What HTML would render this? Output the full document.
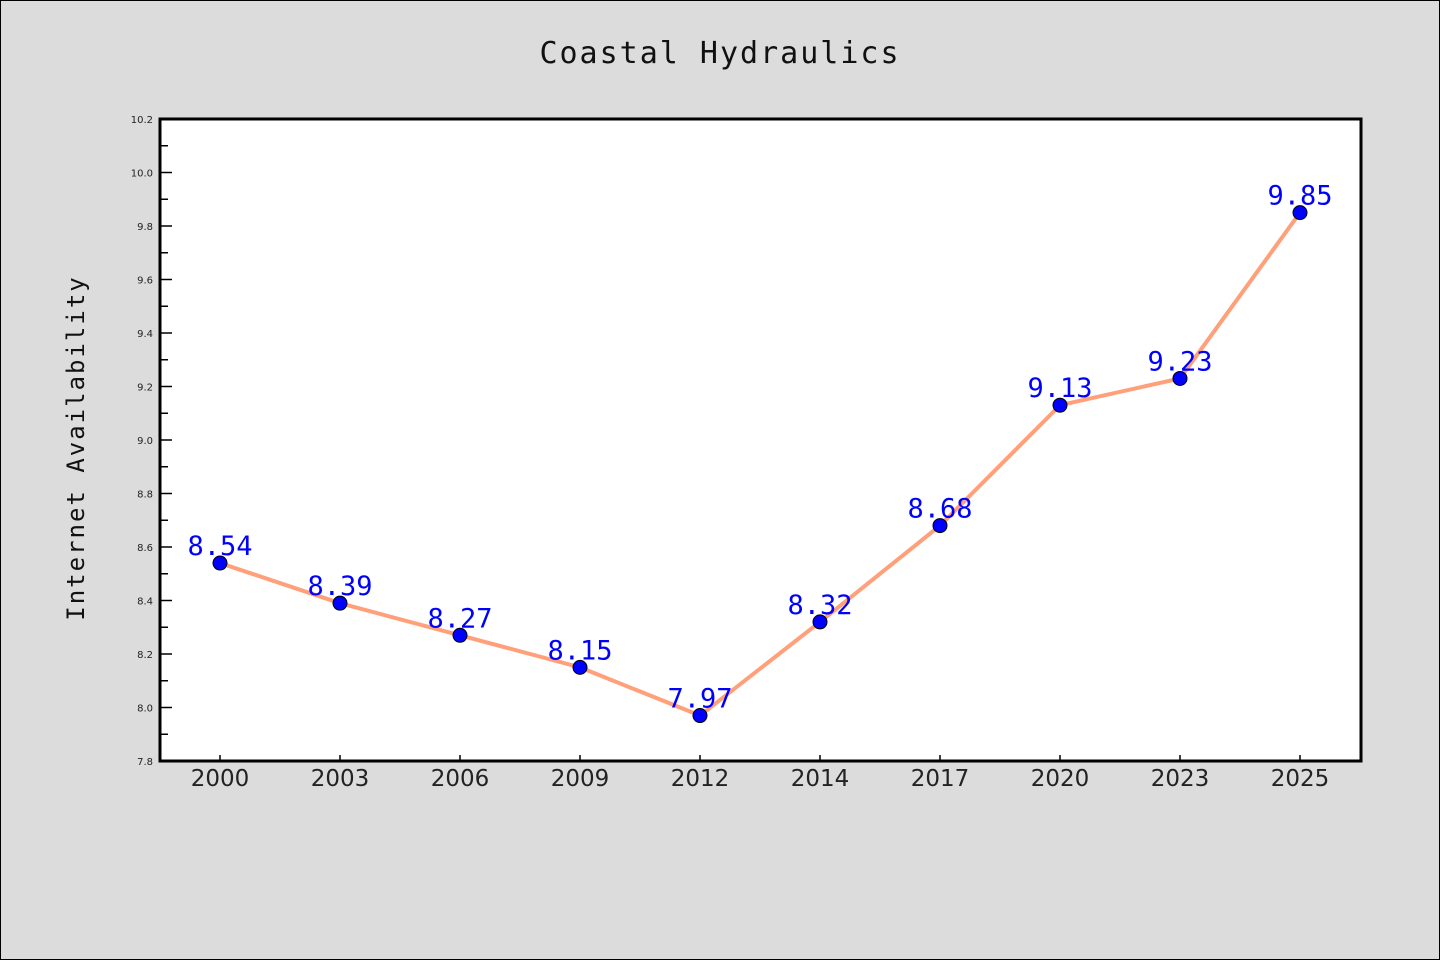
<!DOCTYPE html>
<html><head><meta charset="utf-8"><style>
html,body{margin:0;padding:0;background:#dcdcdc;}
svg{display:block;}
</style></head><body>
<svg id="chart" width="1440" height="960" xmlns="http://www.w3.org/2000/svg">
<rect x="0.5" y="0.5" width="1439" height="959" fill="#dcdcdc" stroke="#000" stroke-width="1"/>
<text x="720" y="63" text-anchor="middle" font-family="'WenQuanYi Zen Hei','DejaVu Sans Mono',monospace" font-size="30" fill="#111" letter-spacing="2">Coastal Hydraulics</text>
<rect x="160" y="119" width="1201" height="642" fill="#fff"/>
<g id="yaxis"></g>
<g id="xaxis"></g>
<text transform="translate(84,448) rotate(-90)" text-anchor="middle" font-family="'WenQuanYi Zen Hei','DejaVu Sans Mono',monospace" font-size="24" fill="#111" letter-spacing="2">Internet Availability</text>
<g id="series"></g>
<rect x="160" y="119" width="1201" height="642" fill="none" stroke="#000" stroke-width="3"/>
</svg>
<script>
const categories = ["2000","2003","2006","2009","2012","2014","2017","2020","2023","2025"];
const values = [8.54,8.39,8.27,8.15,7.97,8.32,8.68,9.13,9.23,9.85];
const yTicks = [7.8,8.0,8.2,8.4,8.6,8.8,9.0,9.2,9.4,9.6,9.8,10.0,10.2];
const yMin = 7.8, yMax = 10.2;
const L=160,R=1361,T=119,B=761;
const ns="http://www.w3.org/2000/svg";
function y(v){return B-(v-yMin)/(yMax-yMin)*(B-T);}
function x(i){return L+(i+0.5)*(1200/categories.length);}
function mk(tag,attrs,parent){const e=document.createElementNS(ns,tag);for(const k in attrs)e.setAttribute(k,attrs[k]);parent.appendChild(e);return e;}
const ya=document.getElementById('yaxis'),xa=document.getElementById('xaxis'),sg=document.getElementById('series');
yTicks.forEach((t,i)=>{
  const tk=mk('line',{x1:L,x2:L+12,y1:y(t),y2:y(t),stroke:'#000','stroke-width':1.5},ya);
  
  
  const lb=mk('text',{x:L-7,y:y(t)+4,'text-anchor':'end','font-family':'DejaVu Sans,sans-serif','font-size':10,fill:'#222'},ya);
  lb.textContent=t.toFixed(1);
  
  
  if(i<yTicks.length-1){
    const m=(t+yTicks[i+1])/2;
    const mt=mk('line',{x1:L,x2:L+8,y1:y(m),y2:y(m),stroke:'#000','stroke-width':1.5},ya);
    
    
  }
});
categories.forEach((c,i)=>{
  const tk=mk('line',{x1:x(i),x2:x(i),y1:B,y2:B-6,stroke:'#000','stroke-width':1.5},xa);
  
  
  const lb=mk('text',{x:x(i),y:B+25,'text-anchor':'middle','font-family':'DejaVu Sans,sans-serif','font-size':23,fill:'#222'},xa);
  lb.textContent=c;
  
  
});
const pts=values.map((v,i)=>x(i)+','+y(v)).join(' ');
const line=mk('polyline',{points:pts,fill:'none',stroke:'#ffa07a','stroke-width':4,'stroke-linejoin':'round'},sg);


values.forEach((v,i)=>{
  const c=mk('circle',{cx:x(i),cy:y(v),r:7,fill:'#0000ff',stroke:'#000','stroke-width':1},sg);
  
  
});
values.forEach((v,i)=>{
  const t=mk('text',{x:x(i),y:y(v)-8,'text-anchor':'middle','font-family':"'WenQuanYi Zen Hei','DejaVu Sans Mono',monospace",'font-size':27,fill:'#0000ff'},sg);
  t.textContent=v.toFixed(2);
  
  
});
</script>
</body></html>
